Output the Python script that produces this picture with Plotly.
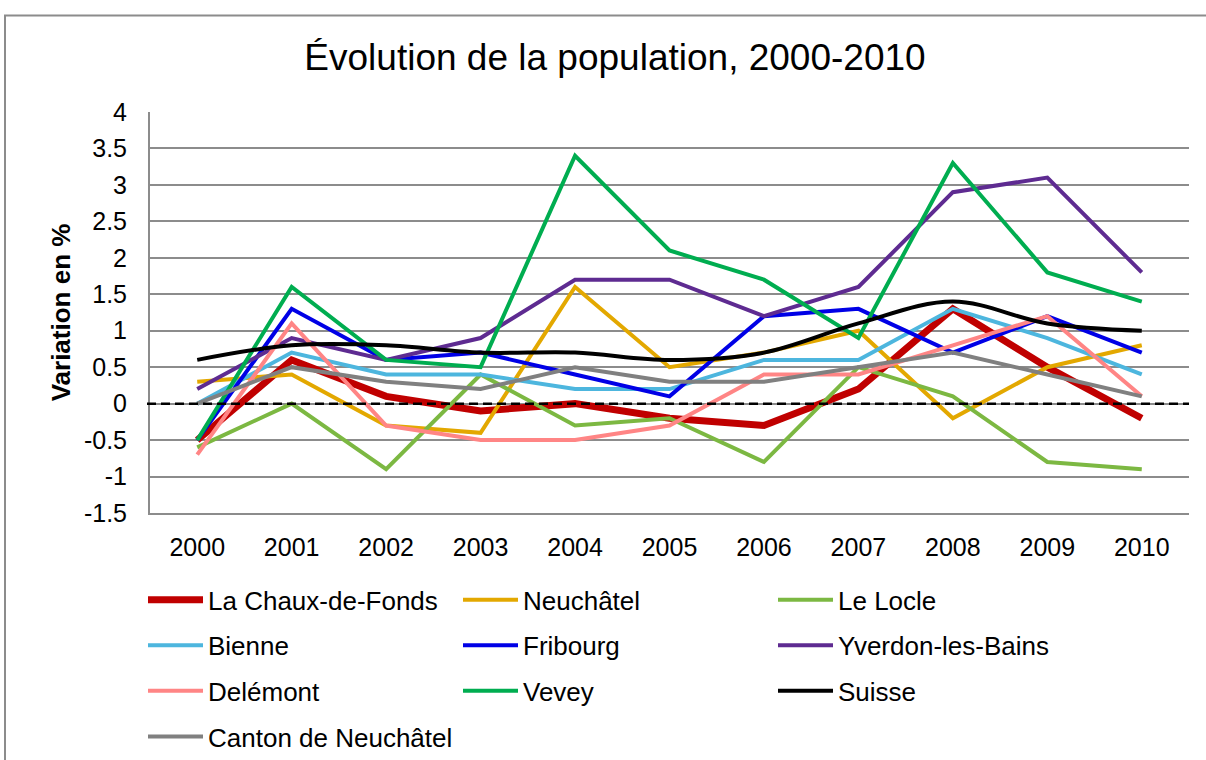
import plotly.graph_objects as go

years = [2000, 2001, 2002, 2003, 2004, 2005, 2006, 2007, 2008, 2009, 2010]

la_chaux_de_fonds = [-0.5, 0.6, 0.1, -0.1, 0.0, -0.2, -0.3, 0.2, 1.3, 0.5, -0.2]
neuchatel = [0.3, 0.4, -0.3, -0.4, 1.6, 0.5, 0.7, 1.0, -0.2, 0.5, 0.8]
le_locle = [-0.6, 0.0, -0.9, 0.4, -0.3, -0.2, -0.8, 0.5, 0.1, -0.8, -0.9]
bienne = [0.0, 0.7, 0.4, 0.4, 0.2, 0.2, 0.6, 0.6, 1.3, 0.9, 0.4]
fribourg = [-0.5, 1.3, 0.6, 0.7, 0.4, 0.1, 1.2, 1.3, 0.7, 1.2, 0.7]
yverdon = [0.2, 0.9, 0.6, 0.9, 1.7, 1.7, 1.2, 1.6, 2.9, 3.1, 1.8]
delemont = [-0.7, 1.1, -0.3, -0.5, -0.5, -0.3, 0.4, 0.4, 0.8, 1.2, 0.1]
vevey = [-0.5, 1.6, 0.6, 0.5, 3.4, 2.1, 1.7, 0.9, 3.3, 1.8, 1.4]
suisse = [0.6, 0.8, 0.8, 0.7, 0.7, 0.6, 0.7, 1.1, 1.4, 1.1, 1.0]
canton_neuchatel = [0.0, 0.5, 0.3, 0.2, 0.5, 0.3, 0.3, 0.5, 0.7, 0.4, 0.1]

series_names = ["La Chaux-de-Fonds", "Neuchâtel", "Le Locle",
                "Bienne", "Fribourg", "Yverdon-les-Bains",
                "Delémont", "Vevey", "Suisse",
                "Canton de Neuchâtel"]
series_values = [la_chaux_de_fonds, neuchatel, le_locle,
                 bienne, fribourg, yverdon,
                 delemont, vevey, suisse,
                 canton_neuchatel]
series_colors = ["#C00000", "#E3A800", "#7CB842",
                 "#4DB6DE", "#0000E6", "#5E2B91",
                 "#FF8585", "#00AD50", "#000000",
                 "#808080"]
series_widths = [7, 4, 4, 4, 4, 4, 4, 4, 4, 4]
series_shapes = ["linear"] * 8 + ["spline", "linear"]

y_ticks = [-1.5, -1, -0.5, 0, 0.5, 1, 1.5, 2, 2.5, 3, 3.5, 4]
y_tick_labels = ["-1.5", "-1", "-0.5", "0", "0.5", "1", "1.5", "2", "2.5", "3", "3.5", "4"]

FONT = "Arial, 'Liberation Sans', sans-serif"

# layout geometry (pixels)
W, H = 1206, 760
ML, MR, MT, MB = 150, 17, 111.5, 247
PW = W - ML - MR
PH = H - MT - MB


def px_x(X):
    return (X - ML) / PW


def px_y(Y):
    return (H - MB - Y) / PH


legend_rows = [600, 645.5, 691, 737]
legend_ids = ["legend", "legend2", "legend3", "legend4"]

fig = go.Figure()
for i, (name, vals, col, w, shp) in enumerate(zip(series_names, series_values, series_colors,
                                                   series_widths, series_shapes)):
    fig.add_trace(go.Scatter(
        x=years, y=vals, name=name, mode="lines",
        line=dict(color=col, width=w, shape=shp),
        legend=legend_ids[i // 3],
    ))

legend_common = dict(
    orientation="h", xanchor="left", yanchor="middle",
    font=dict(family=FONT, size=26, color="#000000"),
    entrywidth=245, entrywidthmode="pixels",
    itemwidth=55, bgcolor="rgba(0,0,0,0)", borderwidth=0,
    traceorder="normal",
)
legends = {}
for lid, ry in zip(legend_ids, legend_rows):
    legends[lid] = dict(legend_common, x=px_x(143), y=px_y(ry))

fig.update_layout(
    width=W, height=H, autosize=False,
    margin=dict(l=ML, r=MR, t=MT, b=MB, pad=0, autoexpand=False),
    paper_bgcolor="white", plot_bgcolor="white",
    font=dict(family=FONT, color="#000000"),
    title=dict(text="Évolution de la population, 2000-2010",
               font=dict(family=FONT, size=37, color="#000000"),
               x=615 / W, xanchor="center", xref="container",
               y=1 - 57 / H, yanchor="middle", yref="container"),
    xaxis=dict(
        range=[1999.5, 2010.5], tickmode="array", tickvals=years,
        ticktext=[str(y) for y in years],
        showgrid=False, zeroline=False,
        showline=True, linecolor="#8C8C8C", linewidth=2,
        ticks="", tickfont=dict(family=FONT, size=25, color="#000000"),
        ticklabelstandoff=11,
    ),
    yaxis=dict(
        range=[-1.5, 4], tickmode="array", tickvals=y_ticks, ticktext=y_tick_labels,
        showgrid=True, gridcolor="#8C8C8C", gridwidth=2,
        zeroline=False, showline=True, linecolor="#8C8C8C", linewidth=2,
        ticks="", tickfont=dict(family=FONT, size=25, color="#000000"),
        ticklabelstandoff=16,
        title=dict(text="<b>Variation en %</b>",
                   font=dict(family=FONT, size=26, color="#000000"),
                   standoff=6),
    ),
    **legends,
)

# zero reference line (dashed)
fig.add_shape(type="line", xref="paper", yref="y",
              x0=px_x(147), x1=1, y0=0, y1=0,
              line=dict(color="#000000", width=2.5, dash="9px,5px"), layer="above")

# outer chart border (extends beyond the visible area)
fig.add_shape(type="rect", xref="paper", yref="paper",
              x0=px_x(5), x1=px_x(1220), y0=px_y(775), y1=px_y(15),
              line=dict(color="#8C8C8C", width=2), fillcolor="rgba(0,0,0,0)", layer="below")

fig.write_html(
    "out.html",
    config={"responsive": False, "displayModeBar": False},
    post_script="document.body.style.margin='0px';document.body.style.overflow='hidden';",
)
